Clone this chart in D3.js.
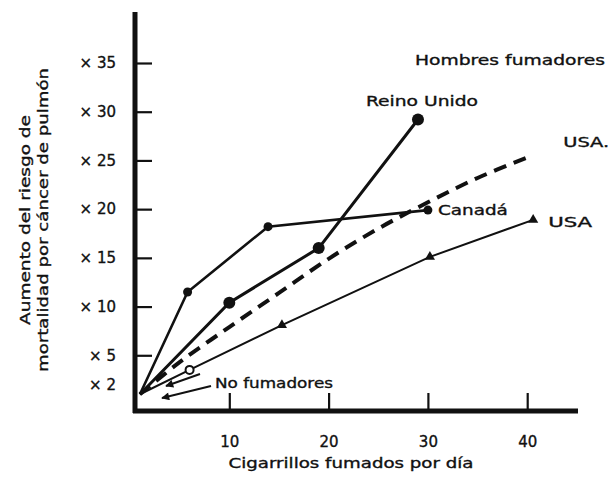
<!DOCTYPE html>
<html><head><meta charset="utf-8">
<script src="https://cdn.jsdelivr.net/npm/d3@7"></script>
<style>
html,body{margin:0;padding:0;background:#fff;}
text{font-family:"DejaVu Sans",sans-serif;fill:#111;stroke:#111;stroke-width:0.35px;}
</style></head>
<body>
<svg id="c" width="612" height="478"></svg>
<script>
// ---- data ----
const xTicks = [10, 20, 30, 40];
const yTicks = [2, 5, 10, 15, 20, 25, 30, 35];
const ukX = [1, 10, 19, 29];
const ukY = [1, 10.4, 16.0, 29.2];
const canX = [1, 5.8, 13.9, 30];
const canY = [1, 11.5, 18.2, 19.9];
const usaX = [1, 6, 15.3, 30.2, 40.6];
const usaY = [1, 3.5, 8.1, 15.1, 18.9];
const usaDashX = [1, 5, 10, 15, 20, 25, 30, 35, 40];
const usaDashY = [1, 4.3, 7.9, 11.4, 14.9, 18.0, 20.7, 23.2, 25.3];
const titleText = "Hombres fumadores";
const xTitle = "Cigarrillos fumados por día";
const yTitle = ["Aumento del riesgo de", "mortalidad por cáncer de pulmón"];
const nonSmokerLabel = "No fumadores";

const svg = d3.select("#c");
const x = d3.scaleLinear().domain([0, 40]).range([130, 527.2]);
const y = d3.scaleLinear().domain([0, 35]).range([404, 63]);
const zip = (a, b) => a.map((v, i) => [v, b[i]]);

svg.append("defs").append("marker")
  .attr("id", "arr").attr("viewBox", "0 0 10 10").attr("refX", 9).attr("refY", 5)
  .attr("markerWidth", 5).attr("markerHeight", 4).attr("orient", "auto")
  .append("path").attr("d", "M0,0L10,5L0,10Z").attr("fill", "#111");

// axes
const yAxis = svg.append("g").attr("transform", "translate(135,0)")
  .call(d3.axisLeft(y).tickValues(yTicks).tickSize(-17).tickPadding(19).tickFormat(d => "× " + d));
yAxis.select(".domain").remove();
yAxis.selectAll(".tick line").attr("stroke", "#111").attr("stroke-width", 2.2)
  .filter(d => d === 2).remove();
yAxis.selectAll(".tick text").attr("font-size", 15).attr("font-family", "DejaVu Sans").attr("fill", "#111");

const xAxis = svg.append("g").attr("transform", "translate(0,411)")
  .call(d3.axisBottom(x).tickValues(xTicks).tickSize(-18).tickPadding(25));
xAxis.select(".domain").remove();
xAxis.selectAll(".tick line").attr("stroke", "#111").attr("stroke-width", 2.2);
xAxis.selectAll(".tick text").attr("font-size", 15).attr("font-family", "DejaVu Sans").attr("fill", "#111");

svg.append("line").attr("x1", 135).attr("x2", 135).attr("y1", 12).attr("y2", 413)
  .attr("stroke", "#111").attr("stroke-width", 5);
svg.append("line").attr("x1", 133).attr("x2", 578).attr("y1", 411).attr("y2", 411)
  .attr("stroke", "#111").attr("stroke-width", 5);

// lines
const lineL = d3.line().x(d => x(d[0])).y(d => y(d[1]));
const curveL = d3.line().x(d => x(d[0])).y(d => y(d[1])).curve(d3.curveCatmullRom);

svg.append("path").datum(zip(usaDashX, usaDashY)).attr("d", curveL)
  .attr("fill", "none").attr("stroke", "#111").attr("stroke-width", 4)
  .attr("stroke-dasharray", "13,8");

svg.append("path").datum(zip(usaX, usaY)).attr("d", lineL)
  .attr("fill", "none").attr("stroke", "#111").attr("stroke-width", 2);
svg.selectAll(".tri").data(zip(usaX, usaY).slice(2)).join("path")
  .attr("transform", d => `translate(${x(d[0])},${y(d[1])})`)
  .attr("d", d3.symbol(d3.symbolTriangle, 45)).attr("fill", "#111");

svg.append("path").datum(zip(canX, canY)).attr("d", lineL)
  .attr("fill", "none").attr("stroke", "#111").attr("stroke-width", 2.6);
svg.selectAll(".can").data(zip(canX, canY).slice(1)).join("circle")
  .attr("cx", d => x(d[0])).attr("cy", d => y(d[1])).attr("r", 4.5).attr("fill", "#111");

svg.append("path").datum(zip(ukX, ukY)).attr("d", lineL)
  .attr("fill", "none").attr("stroke", "#111").attr("stroke-width", 3);
svg.selectAll(".uk").data(zip(ukX, ukY).slice(1)).join("circle")
  .attr("cx", d => x(d[0])).attr("cy", d => y(d[1])).attr("r", 6).attr("fill", "#111");

// labels
function lab(t, px, py, len, anchor) {
  const e = svg.append("text").attr("x", px).attr("y", py).attr("dy", "0.35em")
    .attr("font-size", 14).attr("text-anchor", anchor || "start").text(t);
  if (len) e.attr("textLength", len).attr("lengthAdjust", "spacingAndGlyphs");
  return e;
}
const ukEnd = [ukX[ukX.length - 1], ukY[ukY.length - 1]];
const canEnd = [canX[canX.length - 1], canY[canY.length - 1]];
const usaEnd = [usaX[usaX.length - 1], usaY[usaY.length - 1]];
const dashEnd = [usaDashX[usaDashX.length - 1], usaDashY[usaDashY.length - 1]];

lab(titleText, 415, 60, 190);
lab("Reino Unido", x(ukEnd[0]) + 4, y(ukEnd[1]) - 18, 112, "middle");
lab("USA.", x(dashEnd[0]) + 36, y(dashEnd[1]) - 15, 46);
lab("Canadá", x(canEnd[0]) + 10, y(canEnd[1]) + 0, 70);
lab("USA", x(usaEnd[0]) + 15, y(usaEnd[1]) + 2, 44);
lab(nonSmokerLabel, 215, 383, 118);

// arrows for non-smokers
svg.append("line").attr("x1", 211).attr("y1", 386).attr("x2", 162).attr("y2", 398)
  .attr("stroke", "#111").attr("stroke-width", 2).attr("marker-end", "url(#arr)");
svg.append("line").attr("x1", 200).attr("y1", 374).attr("x2", 166).attr("y2", 386)
  .attr("stroke", "#111").attr("stroke-width", 2).attr("marker-end", "url(#arr)");
svg.append("circle").attr("cx", x(usaX[1])).attr("cy", y(usaY[1])).attr("r", 4)
  .attr("fill", "#fff").attr("stroke", "#111").attr("stroke-width", 2);

// axis titles
lab(xTitle, 351, 463, 245, "middle");
const yt = svg.append("g").attr("transform", "translate(25,220) rotate(-90)");
yt.append("text").attr("x", 0).attr("y", 0).attr("dy", "0.35em").attr("font-size", 14)
  .attr("text-anchor", "middle").attr("textLength", 210).attr("lengthAdjust", "spacingAndGlyphs").text(yTitle[0]);
yt.append("text").attr("x", 0).attr("y", 18).attr("dy", "0.35em").attr("font-size", 14)
  .attr("text-anchor", "middle").attr("textLength", 304).attr("lengthAdjust", "spacingAndGlyphs").text(yTitle[1]);
</script>
</body></html>
